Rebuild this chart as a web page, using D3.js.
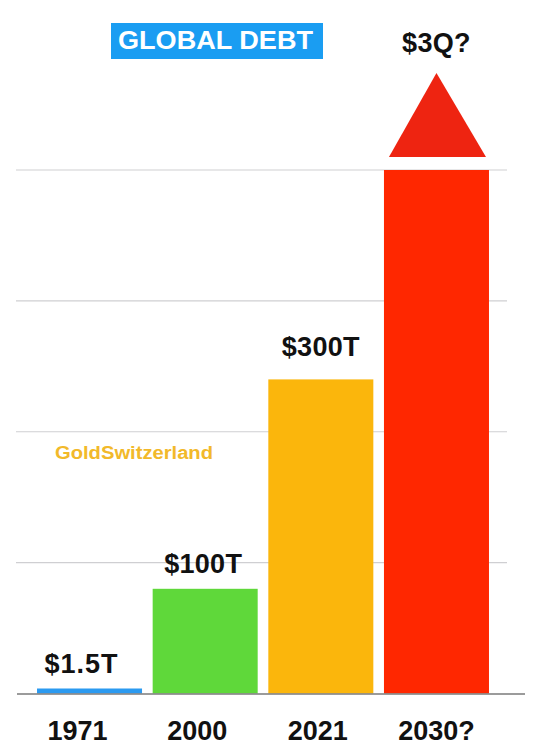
<!DOCTYPE html>
<html><head><meta charset="utf-8">
<script src="https://cdn.jsdelivr.net/npm/d3@7"></script>
<style>html,body{margin:0;padding:0;background:#fff;}svg{display:block;}</style>
</head><body>
<script>
const years = ["1971", "2000", "2021", "2030?"];
const valuesT = [1.5, 100, 300, 3000];
const valueLabels = ["$1.5T", "$100T", "$300T", "$3Q?"];
const barColors = ["#2b9af0", "#5fd83a", "#fbb60c", "#ff2700"];
const gridTicks = [0, 125, 250, 375, 500];

const W = 543, H = 755;
const svg = d3.select("body").append("svg").attr("width", W).attr("height", H);

const x = d3.scaleBand().domain(years).range([31.7, 494.3]).paddingInner(0.092).paddingOuter(0.046);
const y = d3.scaleLinear().domain([0, 500]).range([693.5, 170]).clamp(true);

// gridlines
svg.append("g").selectAll("line").data(gridTicks.slice(1)).join("line")
  .attr("x1", 16).attr("x2", 507)
  .attr("y1", d => y(d)).attr("y2", d => y(d))
  .attr("stroke", "#cfcfd2").attr("stroke-width", 1.2);

// bars
const data = years.map((yr, i) => ({yr, v: valuesT[i], label: valueLabels[i], c: barColors[i]}));
svg.append("g").selectAll("rect").data(data).join("rect")
  .attr("x", d => x(d.yr)).attr("width", x.bandwidth())
  .attr("y", d => Math.min(y(d.v), y(0) - 5))
  .attr("height", d => Math.max(y(0) - y(d.v), 5))
  .attr("fill", d => d.c);

// baseline
svg.append("line").attr("x1", 17).attr("x2", 525).attr("y1", y(0) + 0.5).attr("y2", y(0) + 0.5)
  .attr("stroke", "#7a7a7a").attr("stroke-width", 1.6);

// arrow head on the last (off-scale) bar
const last = data[data.length - 1];
const lx = x(last.yr), bw = x.bandwidth();
const ty = y(last.v) - 13;
svg.append("path")
  .attr("d", `M${lx + 5},${ty} L${lx + bw / 2},${ty - 84} L${lx + bw - 3},${ty} Z`)
  .attr("fill", "#ee2411");

// value labels
svg.append("g").selectAll("text").data(data).join("text")
  .attr("x", (d, i) => x(d.yr) + bw / 2 - (i === 0 ? 8 : i === 1 ? 2 : 0))
  .attr("y", (d, i) => i === data.length - 1 ? 52 : Math.min(y(d.v), y(0) - 5) - (i === 2 ? 23 : 16))
  .attr("text-anchor", "middle")
  .attr("font-family", "Liberation Sans, Arial, sans-serif").attr("font-weight", "bold")
  .attr("font-size", 27).attr("fill", "#111")
  .attr("letter-spacing", (d, i) => i === 0 ? 1 : 0.3)
  .text(d => d.label);

// year labels
svg.append("g").selectAll("text").data(years).join("text")
  .attr("x", (d, i) => x(d) + bw / 2 - (i === 0 ? 12 : i === 1 ? 8 : i === 2 ? 3 : 0))
  .attr("y", 740)
  .attr("text-anchor", "middle")
  .attr("font-family", "Liberation Sans, Arial, sans-serif").attr("font-weight", "bold")
  .attr("font-size", 27).attr("fill", "#111")
  .text(d => d);

// title
svg.append("rect").attr("x", 111).attr("y", 23).attr("width", 212).attr("height", 36).attr("fill", "#1a9df2");
svg.append("text").attr("x", 118).attr("y", 49)
  .attr("font-family", "Liberation Sans, Arial, sans-serif").attr("font-weight", "bold")
  .attr("font-size", 26).attr("fill", "#fff")
  .attr("textLength", 195).attr("lengthAdjust", "spacingAndGlyphs")
  .text("GLOBAL DEBT");

// watermark
svg.append("text").attr("x", 55).attr("y", 459)
  .attr("font-family", "Liberation Sans, Arial, sans-serif").attr("font-weight", "bold")
  .attr("font-size", 18).attr("fill", "#f2b92a")
  .attr("textLength", 158).attr("lengthAdjust", "spacingAndGlyphs")
  .text("GoldSwitzerland");
</script>
</body></html>
